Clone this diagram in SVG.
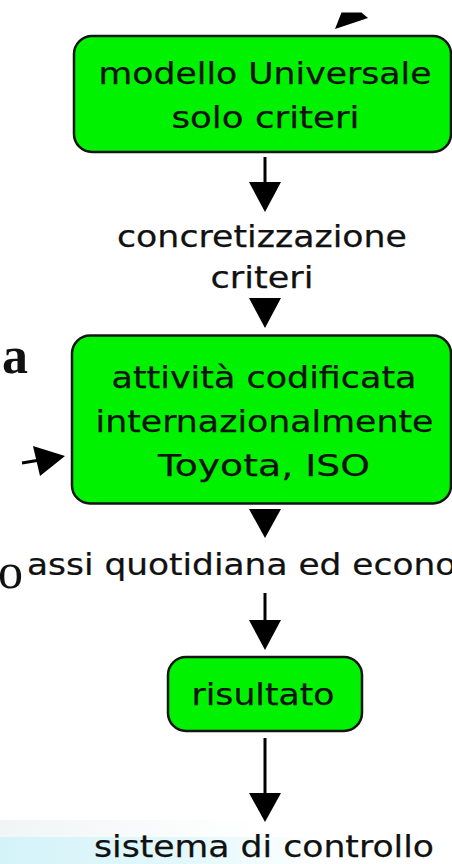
<svg xmlns="http://www.w3.org/2000/svg" width="452" height="864" viewBox="0 0 452 864">
  <style>
    .box { fill: #00f200; stroke: #151515; stroke-width: 2.5; }
    .t { font-family: "DejaVu Sans", Verdana, sans-serif; font-size: 31px; fill: #111; stroke: #111; stroke-width: 0.25; }
    .c { text-anchor: middle; }
    .ln { stroke: #000; stroke-width: 3; fill: none; }
    .hd { fill: #000; stroke: none; }
    .serif { font-family: "Liberation Serif", "Times New Roman", serif; fill: #111; }
  </style>
  <defs>
    <linearGradient id="bgH" x1="0" y1="0" x2="1" y2="0">
      <stop offset="0" stop-color="#d4f3f9"/>
      <stop offset="0.6" stop-color="#e4f8fb"/>
      <stop offset="1" stop-color="#ffffff"/>
    </linearGradient>
    <linearGradient id="bgV" x1="0" y1="0" x2="1" y2="0">
      <stop offset="0" stop-color="#f1f5f6"/>
      <stop offset="1" stop-color="#ffffff"/>
    </linearGradient>
  </defs>
  <rect width="452" height="864" fill="#ffffff"/>
  <rect x="0" y="820" width="260" height="17" fill="url(#bgV)"/>
  <rect x="0" y="837" width="320" height="27" fill="url(#bgH)"/>

  <g id="connectors">
    <polygon class="hd" points="335,29 341.5,12.5 361.5,12.5 368,18"/>
    <line class="ln" x1="265" y1="157" x2="265" y2="184"/>
    <polygon class="hd" points="249,182 281,182 265,212"/>
    <polygon class="hd" points="249,298 281,298 265,328"/>
    <line class="ln" x1="22" y1="463" x2="40" y2="460"/>
    <polygon class="hd" points="33,446 65,456 40,476"/>
    <polygon class="hd" points="249,509 281,509 265,538"/>
    <line class="ln" x1="265" y1="593" x2="265" y2="622"/>
    <polygon class="hd" points="249,620 281,620 265,650"/>
    <line class="ln" x1="265" y1="738" x2="265" y2="795"/>
    <polygon class="hd" points="249,793 281,793 265,822"/>
  </g>

  <g id="node-modello">
    <rect class="box" x="74" y="36" width="377" height="116" rx="18"/>
    <text class="t c" x="265" y="84" textLength="333" lengthAdjust="spacingAndGlyphs">modello Universale</text>
    <text class="t c" x="265.5" y="128" textLength="188" lengthAdjust="spacingAndGlyphs">solo criteri</text>
  </g>

  <g id="node-concretizzazione">
    <text class="t c" x="262" y="247" textLength="290" lengthAdjust="spacingAndGlyphs">concretizzazione</text>
    <text class="t c" x="262" y="288" textLength="103" lengthAdjust="spacingAndGlyphs">criteri</text>
  </g>

  <g id="node-attivita">
    <rect class="box" x="72" y="335.5" width="379" height="168" rx="18"/>
    <text class="t c" x="264" y="388" textLength="305" lengthAdjust="spacingAndGlyphs">attività codificata</text>
    <text class="t c" x="264.5" y="432" textLength="338" lengthAdjust="spacingAndGlyphs">internazionalmente</text>
    <text class="t c" x="264" y="476" textLength="212" lengthAdjust="spacingAndGlyphs">Toyota, ISO</text>
  </g>

  <g id="node-prassi">
    <text class="t" transform="translate(27,575) scale(1.11,1)" x="0" y="0">assi quotidiana ed econo</text>
  </g>

  <g id="node-risultato">
    <rect class="box" x="168" y="657" width="194" height="74" rx="18"/>
    <text class="t c" x="263" y="705" textLength="143" lengthAdjust="spacingAndGlyphs">risultato</text>
  </g>

  <g id="node-sistema">
    <text class="t c" x="264" y="857" textLength="340" lengthAdjust="spacingAndGlyphs">sistema di controllo</text>
  </g>

  <g id="stray-letters">
    <text class="serif" x="2" y="373" font-size="52" font-weight="bold">a</text>
    <text class="serif" x="-2" y="588" font-size="50">o</text>
  </g>
</svg>
